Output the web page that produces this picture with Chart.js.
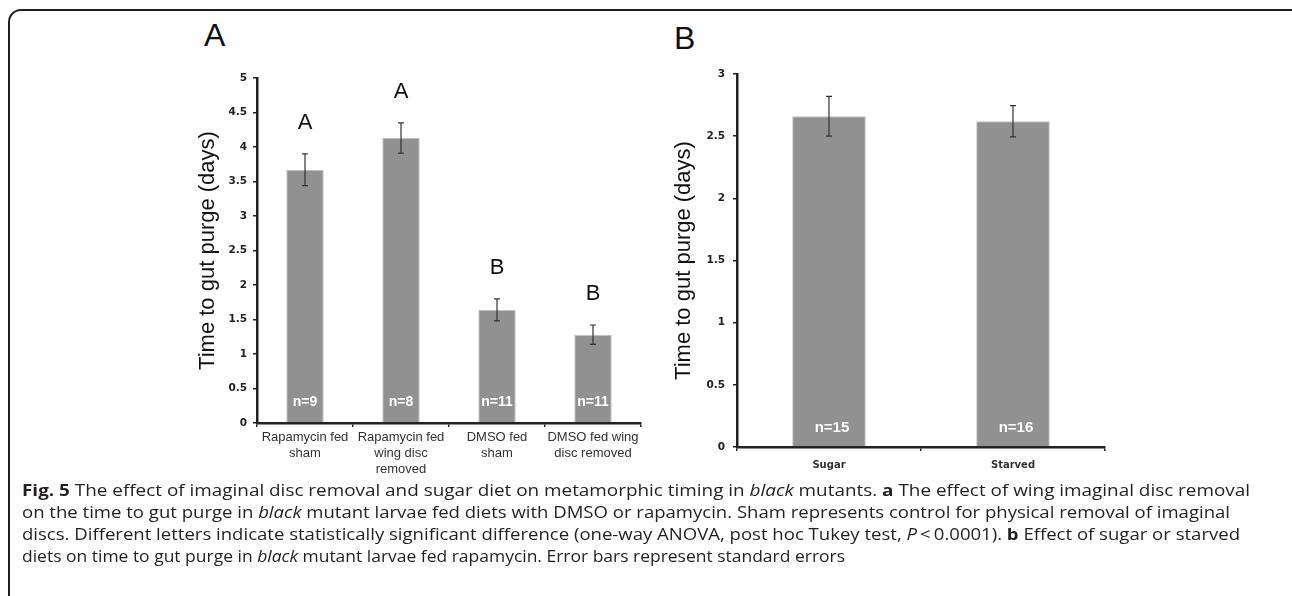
<!DOCTYPE html>
<html>
<head>
<meta charset="utf-8">
<script src="https://cdn.jsdelivr.net/npm/chart.js@4.4.1/dist/chart.umd.min.js"></script>
<style>
  html, body { margin: 0; padding: 0; background: #fff; }
  body { width: 1292px; height: 596px; position: relative; overflow: hidden; }
  .frame { position: absolute; left: 8px; top: 9px; width: 1300px; height: 700px;
           border: 2px solid #231f20; border-radius: 13px; box-sizing: border-box; }
  .panel { position: absolute; font-family: "Liberation Sans", Arial, sans-serif;
           font-size: 32px; color: #111; line-height: 1; }
  .box { position: absolute; top: 0; }
  .caption { position: absolute; left: 22px; top: 479px; font-family: "Open Sans", sans-serif;
             font-size: 16px; color: #231f20; }
  .caption div { height: 22px; line-height: 22px; white-space: nowrap; }
  .caption span.ln { display: inline-block; transform-origin: 0 50%; }
</style>
</head>
<body>
<div class="frame"></div>
<div class="panel" style="left:204px; top:19px;">A</div>
<div class="panel" style="left:674px; top:22px;">B</div>
<div class="box" style="left:160px; width:500px; height:485px;"><canvas id="chartA"></canvas></div>
<div class="box" style="left:660px; width:470px; height:485px;"><canvas id="chartB"></canvas></div>

<div class="caption">
  <div><span class="ln" data-w="1228"><b>Fig. 5</b> The effect of imaginal disc removal and sugar diet on metamorphic timing in <i>black</i> mutants. <b>a</b> The effect of wing imaginal disc removal</span></div>
  <div><span class="ln" data-w="1208">on the time to gut purge in <i>black</i> mutant larvae fed diets with DMSO or rapamycin. Sham represents control for physical removal of imaginal</span></div>
  <div><span class="ln" data-w="1218">discs. Different letters indicate statistically significant difference (one-way ANOVA, post hoc Tukey test, <i>P</i>&thinsp;&lt;&thinsp;0.0001). <b>b</b> Effect of sugar or starved</span></div>
  <div><span class="ln" data-w="823">diets on time to gut purge in <i>black</i> mutant larvae fed rapamycin. Error bars represent standard errors</span></div>
</div>

<script>
// Panel A data
const catsA = [['Rapamycin fed', 'sham'], ['Rapamycin fed', 'wing disc', 'removed'], ['DMSO fed', 'sham'], ['DMSO fed wing', 'disc removed']];
const valsA = [3.67, 4.13, 1.64, 1.28];
const errA = [0.23, 0.22, 0.16, 0.14];
const lettersA = ['A', 'A', 'B', 'B'];
const nA = ['n=9', 'n=8', 'n=11', 'n=11'];
const ticksA = [0, 0.5, 1, 1.5, 2, 2.5, 3, 3.5, 4, 4.5, 5];

// Panel B data
const catsB = ['Sugar', 'Starved'];
const valsB = [2.66, 2.62];
const errB = [0.16, 0.125];
const nB = ['n=15', 'n=16'];
const ticksB = [0, 0.5, 1, 1.5, 2, 2.5, 3];

const barGray = '#919191';
const axisCol = '#222';

// error bars, significance letters and n labels
const barMarks = {
  id: 'barMarks',
  afterDatasetsDraw(chart, args, opts) {
    const ctx = chart.ctx;
    const meta = chart.getDatasetMeta(0);
    const y = chart.scales.y;
    ctx.save();
    meta.data.forEach((bar, i) => {
      const v = chart.data.datasets[0].data[i];
      const e = opts.err[i];
      const yTop = y.getPixelForValue(v + e);
      const yBot = y.getPixelForValue(v - e);
      ctx.strokeStyle = '#333';
      ctx.lineWidth = 1.2;
      ctx.beginPath();
      ctx.moveTo(bar.x, yTop); ctx.lineTo(bar.x, yBot);
      ctx.moveTo(bar.x - 3, yTop); ctx.lineTo(bar.x + 3, yTop);
      ctx.moveTo(bar.x - 3, yBot); ctx.lineTo(bar.x + 3, yBot);
      ctx.stroke();

      ctx.textAlign = 'center';
      ctx.textBaseline = 'middle';
      if (opts.letters) {
        ctx.fillStyle = '#111';
        ctx.font = '22px "Liberation Sans", Arial, sans-serif';
        ctx.fillText(opts.letters[i], bar.x, yTop - 31);
      }
      ctx.fillStyle = '#fff';
      ctx.font = 'bold ' + opts.nSize + 'px "Liberation Sans", Arial, sans-serif';
      ctx.fillText(opts.n[i], bar.x + opts.nShift, y.bottom - opts.nOffset);
    });
    ctx.restore();
  }
};

function makeChart(id, cats, vals, ticks, o) {
  return new Chart(document.getElementById(id), {
    type: 'bar',
    data: {
      labels: cats,
      datasets: [{
        data: vals,
        backgroundColor: barGray,
        borderColor: '#c2c2c2',
        borderWidth: { left: 1, right: 1, top: 1, bottom: 0 },
        barPercentage: o.barPct,
        categoryPercentage: 1
      }]
    },
    options: {
      responsive: true,
      maintainAspectRatio: false,
      animation: false,
      layout: { padding: { left: 0, right: o.padRight, top: o.padTop, bottom: 0 } },
      plugins: {
        legend: { display: false },
        tooltip: { enabled: false },
        barMarks: o.marks
      },
      scales: {
        x: {
          afterFit: s => { s.height = o.xHeight; },
          grid: { offset: true, drawOnChartArea: false, tickLength: 4, color: axisCol, lineWidth: 1.5 },
          border: { color: axisCol, width: 2.5 },
          ticks: { color: '#333', padding: o.xPad, maxRotation: 0, autoSkip: false, font: o.xFont }
        },
        y: {
          min: 0,
          max: ticks[ticks.length - 1],
          afterFit: s => { s.width = o.yWidth; },
          afterBuildTicks: s => { s.ticks = ticks.map(v => ({ value: v })); },
          grid: { drawOnChartArea: false, tickLength: 4, color: axisCol, lineWidth: 1.5 },
          border: { color: axisCol, width: 2.5 },
          ticks: {
            color: '#222',
            padding: o.yPad,
            font: { family: '"DejaVu Sans", sans-serif', size: 10.5, weight: 'bold' },
            callback: v => String(v)
          },
          title: {
            display: true,
            text: 'Time to gut purge (days)',
            color: '#111',
            font: { family: '"Liberation Sans", Arial, sans-serif', size: 22 },
            padding: { top: o.titlePad, bottom: 0 }
          }
        }
      }
    },
    plugins: [barMarks]
  });
}

makeChart('chartA', catsA, valsA, ticksA, {
  barPct: 0.39, padRight: 19, padTop: 78, xHeight: 62, yWidth: 97, xPad: 3, yPad: 6, titlePad: 35,
  xFont: { family: '"Liberation Sans", Arial, sans-serif', size: 13, lineHeight: 1.2 },
  marks: { err: errA, letters: lettersA, n: nA, nOffset: 21, nSize: 14, nShift: 0 }
});

makeChart('chartB', catsB, valsB, ticksB, {
  barPct: 0.4, padRight: 25, padTop: 74, xHeight: 38, yWidth: 77, xPad: 8, yPad: 8, titlePad: 11,
  xFont: { family: '"DejaVu Sans", sans-serif', size: 10, weight: 'bold' },
  marks: { err: errB, n: nB, nOffset: 19, nSize: 15, nShift: 3 }
});

// fit caption lines to the widths of the original lines
document.querySelectorAll('.caption .ln').forEach(el => {
  const w = el.getBoundingClientRect().width;
  el.style.transform = 'scaleX(' + (Number(el.dataset.w) / w) + ')';
});
</script>
</body>
</html>
